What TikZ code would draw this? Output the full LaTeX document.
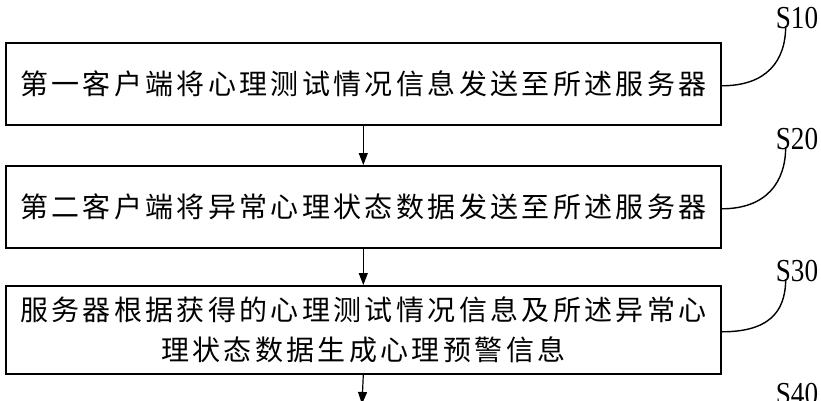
\documentclass[tikz,border=0pt]{standalone}
\usepackage{fontspec}
\setmainfont{Liberation Serif}
\newfontfamily\cjk[LetterSpace=12]{Noto Sans CJK SC}
\usetikzlibrary{arrows.meta}
\begin{document}
\begin{tikzpicture}[x=1pt,y=-1pt,
  stepbox/.style={draw,line width=1.6pt,minimum width=715pt,anchor=north west,inner sep=0pt,font=\cjk\fontsize{28}{40}\selectfont,align=center},
  arr/.style={-{Triangle[length=12pt,width=9pt]},line width=1.2pt},
  lead/.style={line width=1.4pt},
  lab/.style={font=\fontsize{32}{32}\selectfont,inner sep=0pt,xscale=0.85}]
\useasboundingbox (0,0) rectangle (821,400);
\node[stepbox,minimum height=82pt] (b1) at (5,42) {第一客户端将心理测试情况信息发送至所述服务器};
\node[stepbox,minimum height=82pt] (b2) at (5,165) {第二客户端将异常心理状态数据发送至所述服务器};
\node[stepbox,minimum height=88pt] (b3) at (5,285) {服务器根据获得的心理测试情况信息及所述异常心\\理状态数据生成心理预警信息};
\coordinate (e4) at (362,404);
\draw[arr] (b1.south) -- (b2.north);
\draw[arr] (b2.south) -- (b3.north);
\draw[arr] (b3.south) -- (e4);
\node[lab] (s1) at (797,18) {S10};
\node[lab] (s2) at (797,139) {S20};
\node[lab] (s3) at (797,271) {S30};
\node[lab] (s4) at (797,394) {S40};
\draw[lead] ([yshift=-2pt]b1.east) .. controls +(45,0) and +(0,35) .. ([xshift=10pt,yshift=3pt]s1.south west);
\draw[lead] ([yshift=-2pt]b2.east) .. controls +(45,0) and +(0,35) .. ([xshift=10pt,yshift=3pt]s2.south west);
\draw[lead] ([yshift=-2pt]b3.east) .. controls +(45,0) and +(0,35) .. ([xshift=10pt,yshift=3pt]s3.south west);
\end{tikzpicture}
\end{document}
